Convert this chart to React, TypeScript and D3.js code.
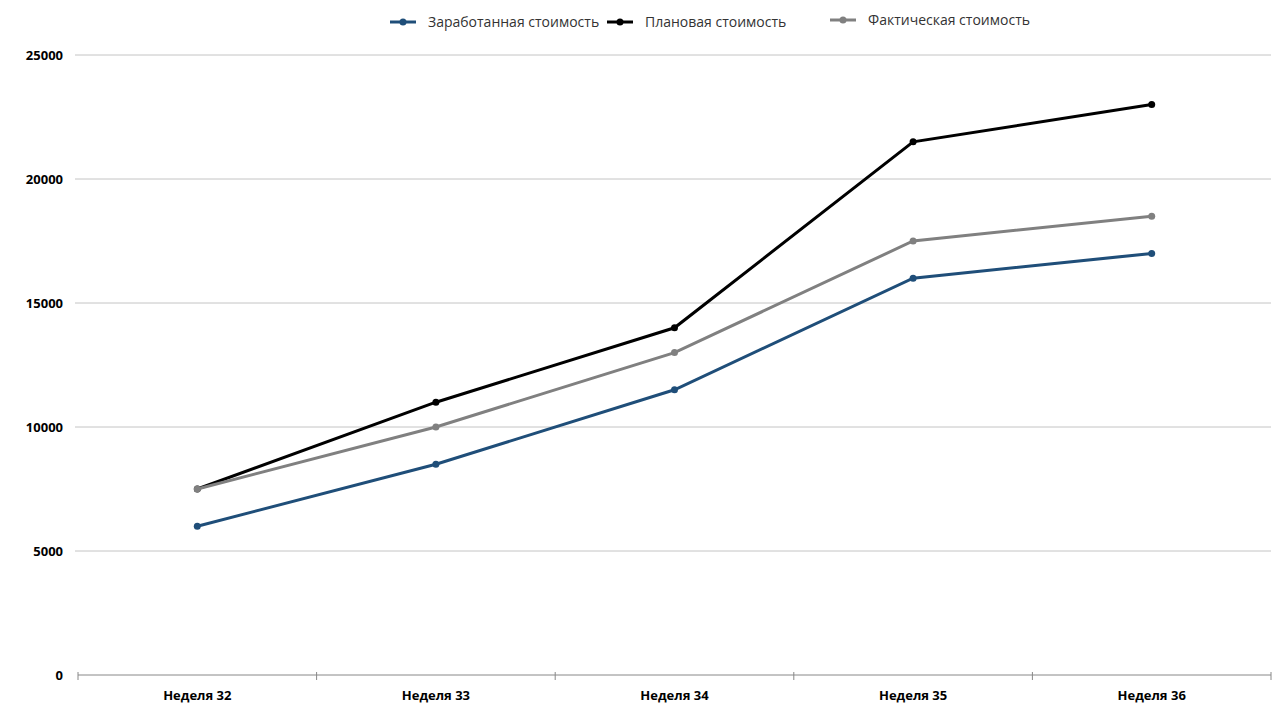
import { useEffect, useRef } from "react"
import * as d3 from "d3"

const weeks = ["Неделя 32", "Неделя 33", "Неделя 34", "Неделя 35", "Неделя 36"]
const earnedValues = [6000, 8500, 11500, 16000, 17000]
const plannedValues = [7500, 11000, 14000, 21500, 23000]
const actualValues = [7500, 10000, 13000, 17500, 18500]
const yTicks = [0, 5000, 10000, 15000, 20000, 25000]

interface Series {
  name: string
  color: string
  values: number[]
  legendX: number
  legendY: number
}

const series: Series[] = [
  { name: "Заработанная стоимость", color: "#1f4e79", values: earnedValues, legendX: 390, legendY: 22 },
  { name: "Плановая стоимость", color: "#000000", values: plannedValues, legendX: 607, legendY: 22 },
  { name: "Фактическая стоимость", color: "#808080", values: actualValues, legendX: 830, legendY: 20 },
]

const W = 1280
const H = 720
const margin = { top: 55, right: 9, bottom: 45, left: 78 }

export default function App() {
  const svgRef = useRef<SVGSVGElement>(null)

  useEffect(() => {
    document.body.style.margin = "0"
    if (!svgRef.current) return
    const svg = d3.select(svgRef.current)
    svg.selectAll("*").remove()

    const width = W - margin.left - margin.right
    const height = H - margin.top - margin.bottom
    const font = "'Open Sans', 'Liberation Sans', Arial, sans-serif"

    const g = svg.append("g").attr("transform", `translate(${margin.left},${margin.top})`)

    const x = d3.scaleBand().domain(weeks).range([0, width])
    const y = d3.scaleLinear().domain([0, 25000]).range([height, 0])
    const cx = (i: number) => (x(weeks[i]) as number) + x.bandwidth() / 2

    // grid lines
    g.selectAll("line.grid")
      .data(yTicks.filter((t) => t > 0))
      .enter()
      .append("line")
      .attr("x1", -3)
      .attr("x2", width)
      .attr("y1", (d) => y(d))
      .attr("y2", (d) => y(d))
      .attr("stroke", "#c4c4c4")
      .attr("stroke-width", 1)

    // y labels
    g.selectAll("text.ylab")
      .data(yTicks)
      .enter()
      .append("text")
      .attr("x", -15)
      .attr("y", (d) => y(d))
      .attr("dy", "0.35em")
      .attr("text-anchor", "end")
      .style("font-family", font)
      .style("font-size", "13px")
      .style("font-weight", "bold")
      .attr("fill", "#000")
      .text((d) => String(d))

    // x axis
    g.append("line")
      .attr("x1", 0)
      .attr("x2", width)
      .attr("y1", height)
      .attr("y2", height)
      .attr("stroke", "#888")
      .attr("stroke-width", 1)

    const boundaries = weeks.map((w) => x(w) as number).concat([width])
    g.selectAll("line.tick")
      .data(boundaries)
      .enter()
      .append("line")
      .attr("x1", (d) => d)
      .attr("x2", (d) => d)
      .attr("y1", height - 3)
      .attr("y2", height + 5)
      .attr("stroke", "#888")
      .attr("stroke-width", 1)

    g.selectAll("text.xlab")
      .data(weeks)
      .enter()
      .append("text")
      .attr("x", (_, i) => cx(i))
      .attr("y", height + 25)
      .attr("text-anchor", "middle")
      .style("font-family", font)
      .style("font-size", "13px")
      .style("font-weight", "bold")
      .attr("fill", "#000")
      .text((d) => d)

    // lines
    const line = d3
      .line<number>()
      .x((_, i) => cx(i))
      .y((d) => y(d))

    series.forEach((s) => {
      g.append("path")
        .datum(s.values)
        .attr("fill", "none")
        .attr("stroke", s.color)
        .attr("stroke-width", 3)
        .attr("d", line)

      g.selectAll(null)
        .data(s.values)
        .enter()
        .append("circle")
        .attr("cx", (_, i) => cx(i))
        .attr("cy", (d) => y(d))
        .attr("r", 3.5)
        .attr("fill", s.color)
    })

    // legend
    series.forEach((s) => {
      const lg = svg.append("g").attr("transform", `translate(${s.legendX},${s.legendY})`)
      lg.append("line").attr("x1", 0).attr("x2", 26).attr("y1", 0).attr("y2", 0).attr("stroke", s.color).attr("stroke-width", 3)
      lg.append("circle").attr("cx", 13).attr("cy", 0).attr("r", 3.5).attr("fill", s.color)
      lg.append("text")
        .attr("x", 38)
        .attr("y", 0)
        .attr("dy", "0.35em")
        .style("font-family", font)
        .style("font-size", "14px")
        .attr("fill", "#333")
        .text(s.name)
    })
  }, [])

  return <svg ref={svgRef} width={W} height={H} style={{ display: "block", background: "#fff" }} />
}
